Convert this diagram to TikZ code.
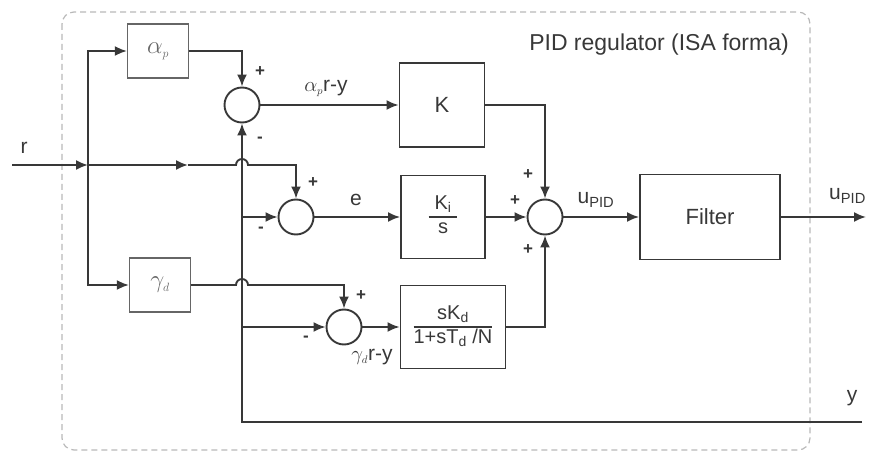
\documentclass[tikz,border=0pt]{standalone}
\usepackage{fontspec}
\setmainfont{Liberation Sans}
\usetikzlibrary{arrows.meta}
\definecolor{linegray}{HTML}{383838}
\definecolor{boxgray}{HTML}{666666}
\definecolor{dashgray}{HTML}{B8B8B8}

\begin{document}
\begin{tikzpicture}[x=1pt, y=-1pt,
    blk/.style={draw=linegray, line width=1.9pt, text=linegray, inner sep=0pt, font=\fontsize{22}{24}\selectfont},
    gainblk/.style={draw=boxgray, line width=1.3pt, text=boxgray, minimum width=61pt, minimum height=54pt, inner sep=0pt, font=\fontsize{24}{26}\selectfont},
    sumnode/.style={draw=linegray, line width=1.9pt, circle, minimum size=35pt, inner sep=0pt},
    sgn/.style={text=linegray, inner sep=0pt, font=\bfseries\fontsize{17}{17}\selectfont},
    lbl/.style={text=linegray, inner sep=0pt, font=\fontsize{21}{24}\selectfont},
    wire/.style={draw=linegray, line width=1.9pt},
    conn/.style={wire, -{Latex[length=12pt,width=10pt]}}]
            \useasboundingbox (0,0) rectangle (869,454);
            %\draw (0,0) rectangle (869,454);
            \draw[dashgray, line width=1.2pt, dash pattern=on 6pt off 4pt, rounded corners=12pt] (62,12) rectangle (810,450);
            \node[lbl, font=\fontsize{23}{26}\selectfont] (title) at (659,45) {PID regulator (ISA forma)};

            \node[gainblk] (alphap) at (158,51) {$\alpha_{\scriptscriptstyle p}$};
            \node[gainblk] (gammad) at (160,285) {$\gamma_{\scriptscriptstyle d}$};
            \node[sumnode] (sum1) at (242,105) {};
            \node[sumnode] (sum2) at (296,217) {};
            \node[sumnode] (sum3) at (344,327) {};
            \node[sumnode] (sum4) at (545,217) {};
            \node[blk, minimum width=85pt, minimum height=84pt] (K) at (442,105) {K};
            \node[blk, minimum width=84pt, minimum height=83pt, font=\fontsize{20}{22}\selectfont] (Ki) at (443,217)
                {\setlength{\arrayrulewidth}{1.6pt}\begin{tabular}{@{\hspace{6pt}}c@{\hspace{6pt}}}K\textsubscript{i}\\\hline s\end{tabular}};
            \node[blk, minimum width=105pt, minimum height=83pt, font=\fontsize{20}{22}\selectfont] (Kd) at (453,327)
                {\setlength{\arrayrulewidth}{1.6pt}\begin{tabular}{@{}c@{}}sK\textsubscript{d}\\\hline 1+sT\textsubscript{d} /N\end{tabular}};
            \node[blk, minimum width=140pt, minimum height=85pt] (filter) at (710,217) {Filter};

            \coordinate (rin) at (12,165);
            \coordinate (rsplit) at (88,165);
            \coordinate (rmid) at (188,165);
            \coordinate (yin) at (862,422);
            \coordinate (uout) at (866,217);

            \draw[conn] (rin) -- (rsplit);
            \draw[conn] (rsplit) -- (rmid);
            \draw[conn] (rmid) -- (236,165) arc[start angle=180, end angle=0, radius=6pt] -| (sum2.north);
            \draw[conn] (rsplit) |- (alphap.west);
            \draw[conn] (rsplit) |- (gammad.west);
            \draw[conn] (alphap.east) -| (sum1.north);
            \draw[conn] (gammad.east) -- (236,285) arc[start angle=180, end angle=0, radius=6pt] -| (sum3.north);
            \draw[conn] (yin) -| (sum1.south);
            \draw[conn] (sum1 |- sum2) -- (sum2.west);
            \draw[conn] (sum1 |- sum3) -- (sum3.west);
            \draw[conn] (sum1.east) -- (K.west);
            \draw[conn] (sum2.east) -- (Ki.west);
            \draw[conn] (sum3.east) -- (Kd.west);
            \draw[conn] (K.east) -| (sum4.north);
            \draw[conn] (Ki.east) -- (sum4.west);
            \draw[conn] (Kd.east) -| (sum4.south);
            \draw[conn] (sum4.east) -- (filter.west);
            \draw[conn] (filter.east) -- (uout);

            \node[lbl] (lr) at (24,148) {r};
            \node[lbl] (ly) at (852,398) {y};
            \node[lbl] (lap) at (326,88) {$\alpha_{\scriptscriptstyle p}$r-y};
            \node[lbl] (le) at (356,200) {e};
            \node[lbl] (lgd) at (372,357) {$\gamma_{\scriptscriptstyle d}$r-y};
            \node[lbl] (lu) at (596,200) {u\textsubscript{PID}};
            \node[lbl, anchor=west] (luf) at (829,196) {u\textsubscript{PID}};

            \node[sgn] (s1p) at (260,72) {+};
            \node[sgn] (s1m) at (260,140) {-};
            \node[sgn] (s2p) at (313,183) {+};
            \node[sgn] (s2m) at (261,230) {-};
            \node[sgn] (s3p) at (361,296) {+};
            \node[sgn] (s3m) at (306,339) {-};
            \node[sgn] (s4a) at (528,175) {+};
            \node[sgn] (s4b) at (515,201) {+};
            \node[sgn] (s4c) at (528,250) {+};
            \end{tikzpicture}
\end{document}
